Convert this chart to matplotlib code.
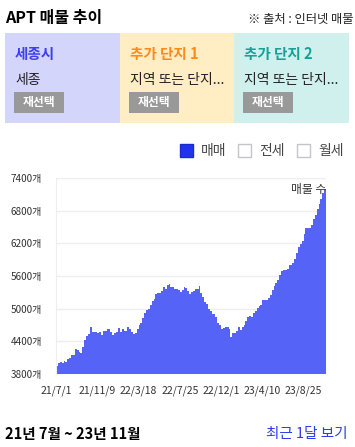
import matplotlib.pyplot as plt
from matplotlib.patches import Rectangle
import numpy as np

plt.rcParams['font.family'] = ['Noto Sans CJK KR', 'DejaVu Sans']

# weekly listing counts
counts_a = [3950, 4000, 4025, 4000, 4040, 4025, 4075, 4100, 4150, 4155, 4260, 4240, 4200, 4190,
            4295, 4420, 4490, 4540, 4660, 4580, 4565, 4565, 4560, 4570, 4510, 4590, 4590, 4625,
            4625, 4570, 4510, 4550, 4580, 4645]
counts_b = [4570, 4625, 4585, 4585, 4670, 4630, 4570, 4530, 4550, 4620, 4705, 4730, 4830, 4915,
            4975, 5000, 5075, 5145, 5170, 5270, 5280, 5285, 5320, 5400, 5360, 5430, 5460, 5400,
            5400, 5360, 5360, 5340, 5305, 5350, 5390]
counts_c = [5385, 5325, 5270, 5305, 5325, 5355, 5355, 5425, 5290, 5210, 5125, 5085, 5000, 4960,
            4900, 4900, 4850, 4730, 4695, 4625, 4650, 4670, 4655, 4620, 4485, 4545, 4560, 4590,
            4665, 4615, 4665, 4700, 4775, 4840, 4870]
counts_d = [4850, 4915, 4960, 5020, 5050, 5060, 5155, 5155, 5155, 5200, 5260, 5345, 5415, 5465,
            5525, 5610, 5690, 5710, 5710, 5735, 5800, 5800, 5835, 5910, 6030, 6125, 6185, 6235,
            6370, 6490, 6490, 6480, 6530, 6640, 6715, 6825, 6915, 7010, 7130, 7190]
counts = counts_a + counts_b + counts_c + counts_d

tick_labels = ['21/7/1', '21/11/9', '22/3/18', '22/7/25', '22/12/1', '23/4/10', '23/8/25']
tick_every = 22
y_ticks = [3800, 4400, 5000, 5600, 6200, 6800, 7400]

panel_titles = ['세종시', '추가 단지 1', '추가 단지 2']
panel_subs = ['세종', '지역 또는 단지...', '지역 또는 단지...']
panel_bg = ['#d4d5fb', '#ffedc4', '#d0f0ee']
panel_fg = ['#3b3ff0', '#ff8a1c', '#17a097']
legend_labels = ['매매', '전세', '월세']

W, H = 355, 447
fig = plt.figure(figsize=(W / 100, H / 100), dpi=100)
fig.patch.set_facecolor('white')

def px(x, y):
    return x / W, 1 - y / H

# header
fig.text(*px(5, 18), 'APT 매물 추이', fontsize=11.5, fontweight='bold', va='center', ha='left')
fig.text(*px(353, 19), '※ 출처 : 인터넷 매물', fontsize=8.8, va='center', ha='right', color='#222222')

# selection panels
x0 = 5
pw = 114.7
for i in range(3):
    left = x0 + i * pw
    fig.patches.append(Rectangle(px(left, 123), pw / W, 90 / H, transform=fig.transFigure,
                                 facecolor=panel_bg[i], edgecolor='none'))
    fig.text(*px(left + 10, 54), panel_titles[i], fontsize=10.5, color=panel_fg[i],
             fontweight='bold', va='center')
    fig.text(*px(left + 10, 80), panel_subs[i], fontsize=10, color='#222222', va='center')
    fig.patches.append(Rectangle(px(left + 9, 113), 50 / W, 21 / H, transform=fig.transFigure,
                                 facecolor='#999999', edgecolor='none'))
    fig.text(*px(left + 34, 102.5), '재선택', fontsize=8.5, color='white', fontweight='bold',
             va='center', ha='center')

# legend checkboxes
box_x = [180, 238, 297]
for i, lab in enumerate(legend_labels):
    fc = '#2233ee' if i == 0 else 'white'
    ec = '#1a2acc' if i == 0 else '#c4c4cc'
    fig.patches.append(Rectangle(px(box_x[i], 157), 13 / W, 13 / H, transform=fig.transFigure,
                                 facecolor=fc, edgecolor=ec, linewidth=1))
    fig.text(*px(box_x[i] + 21, 150.5), lab, fontsize=10, color='#444444', va='center')

# chart
ax = fig.add_axes([56 / W, 73 / H, 270 / W, 196 / H])
x = np.arange(len(counts))
ax.bar(x, counts, width=1.0, align='edge', color='#5563f7', linewidth=0)
ax.set_xlim(0, len(counts))
ax.set_ylim(3800, 7400)
ax.set_yticks(y_ticks)
ax.set_yticklabels([f'{v}개' for v in y_ticks], fontsize=7.2, color='#333333')
ax.set_xticks(np.arange(len(tick_labels)) * tick_every)
ax.set_xticklabels(tick_labels, fontsize=7.5, color='#333333')
ax.tick_params(axis='y', length=0, pad=10)
ax.tick_params(axis='x', length=0, pad=8)
ax.grid(axis='y', color='#eeeeee', linewidth=1)
ax.set_axisbelow(True)
for s in ['top', 'right', 'bottom']:
    ax.spines[s].set_visible(False)
ax.spines['left'].set_color('#eeeeee')
ax.text(1.0, 0.94, '매물 수', transform=ax.transAxes, fontsize=8.5, ha='right', va='center',
        color='#333333')

# footer
fig.text(*px(5, 434), '21년 7월 ~ 23년 11월', fontsize=10.5, fontweight='bold', va='center')
fig.text(*px(348, 434), '최근 1달 보기', fontsize=10.5, color='#2b3cf0', va='center', ha='right')

fig.savefig('out.png', dpi=100)
